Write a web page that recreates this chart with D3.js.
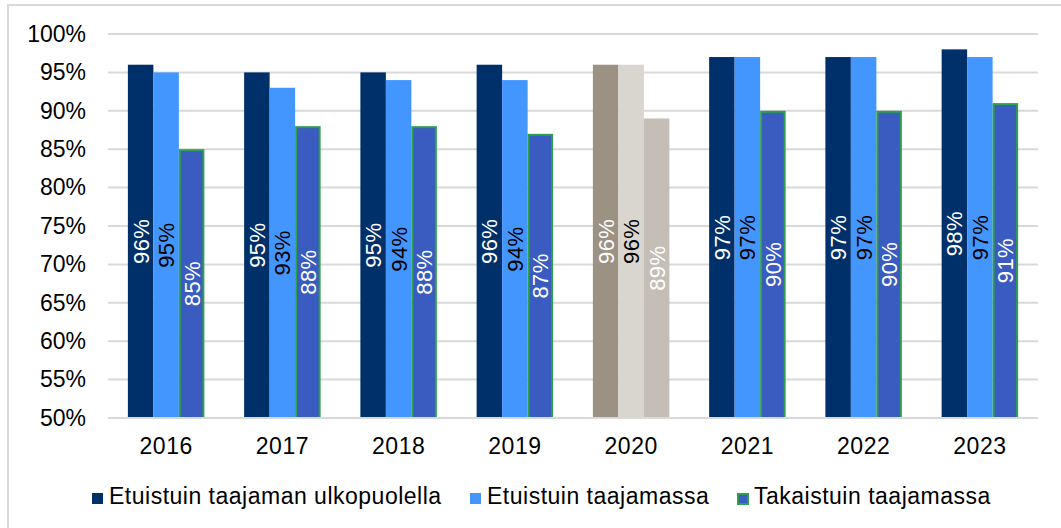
<!DOCTYPE html>
<html>
<head>
<meta charset="utf-8">
<script src="https://cdn.jsdelivr.net/npm/d3@7"></script>
<style>
  html, body { margin: 0; padding: 0; background: #fff; }
  svg { display: block; font-family: "Liberation Sans", Arial, sans-serif; }
</style>
</head>
<body>
<div id="chart"></div>
<script>
// chart data
const years = ['2016', '2017', '2018', '2019', '2020', '2021', '2022', '2023'];
const seriesNames = ['Etuistuin taajaman ulkopuolella', 'Etuistuin taajamassa', 'Takaistuin taajamassa'];
const frontOutside = [96, 95, 95, 96, 96, 97, 97, 98];
const frontUrban = [95, 93, 94, 94, 96, 97, 97, 97];
const rearUrban = [85, 88, 88, 87, 89, 90, 90, 91];
const yTicks = [50, 55, 60, 65, 70, 75, 80, 85, 90, 95, 100];

const W = 1061, H = 528;
const margin = { top: 34, right: 23, bottom: 110, left: 108 };

// normal colours, and the greyed-out 2020 group
const fills = ['#00306a', '#4496ff', '#3a5bbf'];
const greyFills = ['#9c9283', '#d9d6d0', '#c5beb6'];
const labelColors = ['#fff', '#000', '#fff'];
const greyLabelColors = ['#fff', '#000', '#fff'];
const greyYear = '2020';

const svg = d3.select('#chart').append('svg')
  .attr('width', W).attr('height', H);

// outer frame (right/bottom edges lie outside the picture)
svg.append('rect')
  .attr('x', 8).attr('y', 5)
  .attr('width', W + 20).attr('height', H + 20)
  .attr('fill', 'none').attr('stroke', '#d9d9d9').attr('stroke-width', 2);

const x = d3.scaleBand()
  .domain(years)
  .range([margin.left, W - margin.right])
  .paddingInner(0.342)
  .paddingOuter(0.171);

const x1 = d3.scaleBand()
  .domain(d3.range(seriesNames.length))
  .range([0, x.bandwidth()]);

const y = d3.scaleLinear()
  .domain([50, 100])
  .range([H - margin.bottom, margin.top]);

// gridlines
svg.append('g')
  .selectAll('line')
  .data(yTicks.slice(1))
  .join('line')
  .attr('x1', margin.left).attr('x2', W - margin.right)
  .attr('y1', d => y(d)).attr('y2', d => y(d))
  .attr('stroke', '#d9d9d9').attr('stroke-width', 2);

// y axis labels
const yAxis = svg.append('g')
  .attr('transform', `translate(${margin.left},0)`)
  .call(d3.axisLeft(y).tickValues(yTicks).tickSize(0).tickPadding(22).tickFormat(d => d + '%'));
yAxis.select('.domain').remove();
yAxis.selectAll('.tick text')
  .attr('font-size', 23).attr('fill', '#000')
  .attr('font-family', '"Liberation Sans", Arial, sans-serif');

const seriesValues = [frontOutside, frontUrban, rearUrban];
const bars = [];
years.forEach((yr, i) => {
  seriesValues.forEach((vals, s) => {
    bars.push({ year: yr, s: s, v: vals[i] });
  });
});

const g = svg.append('g');

// the rear-seat bars carry a green outline, drawn inside the bar
const outlined = d => d.s === 2 && d.year !== greyYear;

g.selectAll('rect')
  .data(bars)
  .join('rect')
  .attr('x', d => x(d.year) + x1(d.s) + (outlined(d) ? 1 : 0))
  .attr('y', d => y(d.v) + (outlined(d) ? 1 : 0))
  .attr('width', d => x1.bandwidth() - (outlined(d) ? 2 : 0))
  .attr('height', d => y(50) - y(d.v) - (outlined(d) ? 1 : 0))
  .attr('fill', d => d.year === greyYear ? greyFills[d.s] : fills[d.s])
  .attr('stroke', d => outlined(d) ? '#2e9e4f' : 'none')
  .attr('stroke-width', 2);

// x axis baseline
svg.append('line')
  .attr('x1', margin.left).attr('x2', W - margin.right)
  .attr('y1', y(50)).attr('y2', y(50))
  .attr('stroke', '#d9d9d9').attr('stroke-width', 2);

// value labels, rotated, centred in each bar
g.selectAll('text.val')
  .data(bars)
  .join('text')
  .attr('class', 'val')
  .attr('transform', d => {
    const cx = x(d.year) + x1(d.s) + x1.bandwidth() / 2;
    const cy = (y(d.v) + y(50)) / 2;
    return `translate(${cx},${cy}) rotate(-90)`;
  })
  .attr('text-anchor', 'middle')
  .attr('dy', '0.36em')
  .attr('font-size', 22)
  .attr('letter-spacing', 0.4)
  .attr('fill', d => d.year === greyYear ? greyLabelColors[d.s] : labelColors[d.s])
  .text(d => d.v + '%');

// x axis labels
const xAxis = svg.append('g')
  .attr('transform', `translate(0,${y(50)})`)
  .call(d3.axisBottom(x).tickSize(0).tickPadding(20));
xAxis.select('.domain').remove();
xAxis.selectAll('.tick text')
  .attr('font-size', 23).attr('fill', '#000')
  .attr('letter-spacing', 0.5)
  .attr('font-family', '"Liberation Sans", Arial, sans-serif');

// legend
const legendX = [92, 470, 737];
const legend = svg.append('g')
  .selectAll('g')
  .data(seriesNames)
  .join('g')
  .attr('transform', (d, i) => `translate(${legendX[i]},493)`);

legend.append('rect')
  .attr('x', (d, i) => i === 2 ? 1 : 0)
  .attr('y', (d, i) => i === 2 ? 1 : 0)
  .attr('width', (d, i) => i === 2 ? 10 : 11)
  .attr('height', (d, i) => i === 2 ? 10 : 11)
  .attr('fill', (d, i) => fills[i])
  .attr('stroke', (d, i) => i === 2 ? '#2e9e4f' : 'none')
  .attr('stroke-width', 2);

legend.append('text')
  .attr('x', 17)
  .attr('y', 11)
  .attr('font-size', 23)
  .attr('letter-spacing', 0.5)
  .attr('fill', '#000')
  .text(d => d);
</script>
</body>
</html>
